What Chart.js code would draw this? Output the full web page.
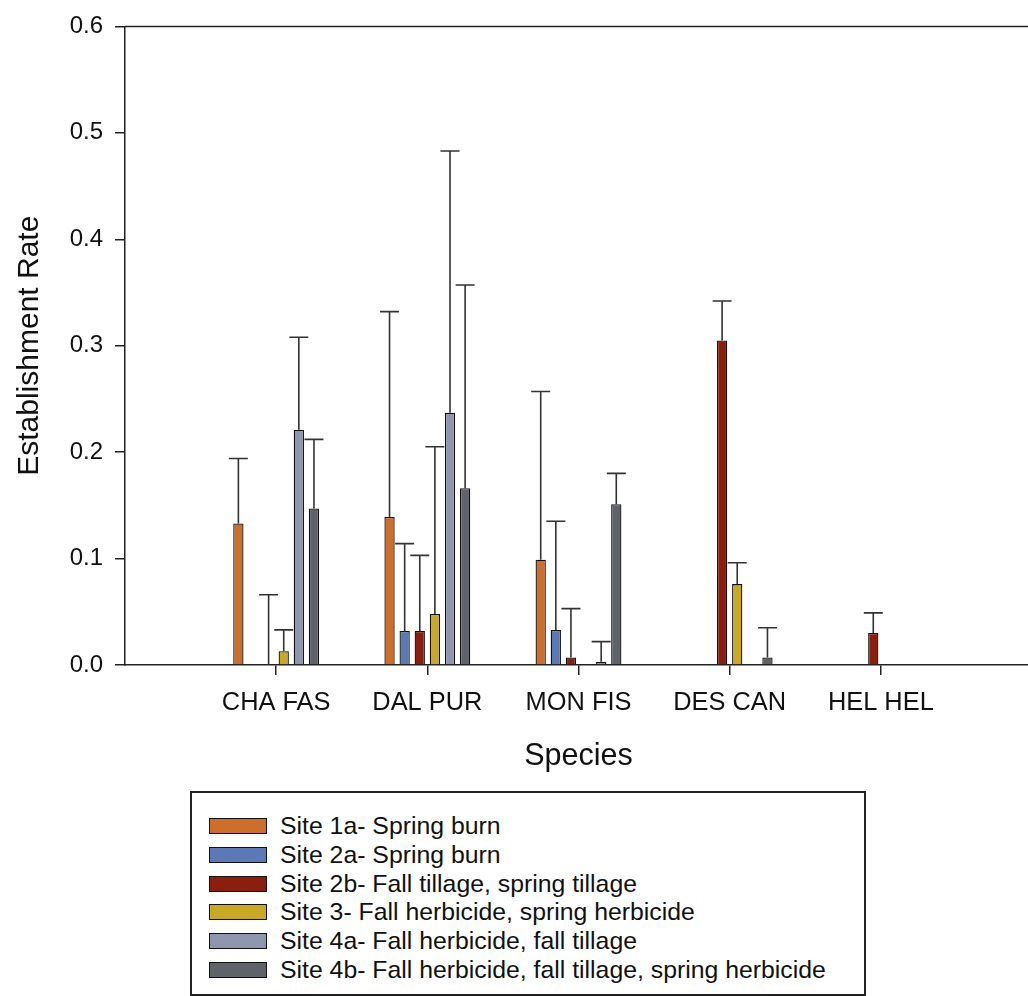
<!DOCTYPE html>
<html>
<head>
<meta charset="utf-8">
<script src="https://cdn.jsdelivr.net/npm/chart.js@4/dist/chart.umd.min.js"></script>
<style>
  html, body { margin: 0; padding: 0; background: #fff; overflow: hidden; }
  #wrap { position: absolute; left: 0; top: 0; width: 1045px; height: 790px; }
  #legend {
    position: absolute; left: 190px; top: 791px;
    border: 2px solid #222; background: #fff;
    font-family: "Liberation Sans", Arial, sans-serif; font-size: 24.8px; color: #111;
    padding-top: 19px; box-sizing: border-box; width: 676px; height: 205px;
  }
  .row { height: 28.7px; display: flex; align-items: center; }
  .sw { width: 56px; height: 14px; border: 1.5px solid #111; margin-left: 17px; margin-right: 13px; flex: none; }
</style>
</head>
<body>
<div id="wrap"><canvas id="chart" width="1045" height="790"></canvas></div>
<div id="legend"></div>
<script>
const categories = ['CHA FAS', 'DAL PUR', 'MON FIS', 'DES CAN', 'HEL HEL'];
const seriesNames = [
  'Site 1a- Spring burn',
  'Site 2a- Spring burn',
  'Site 2b- Fall tillage, spring tillage',
  'Site 3- Fall herbicide, spring herbicide',
  'Site 4a- Fall herbicide, fall tillage',
  'Site 4b- Fall herbicide, fall tillage, spring herbicide'
];
const seriesColors = ['#CD6F2C', '#5A79B5', '#8B1F0F', '#C9A826', '#8F97AF', '#5F6269'];

// mean establishment rate per species
const site1a = [0.133, 0.139, 0.099, null, null];
const site2a = [null, 0.032, 0.033, null, null];
const site2b = [0, 0.032, 0.007, 0.305, 0.030];
const site3 = [0.013, 0.048, null, 0.076, null];
const site4a = [0.221, 0.237, 0.003, null, null];
const site4b = [0.147, 0.166, 0.151, 0.007, null];

// upper error (added to the mean)
const err1a = [0.061, 0.193, 0.158, null, null];
const err2a = [null, 0.082, 0.102, null, null];
const err2b = [0.066, 0.071, 0.046, 0.037, 0.019];
const err3 = [0.020, 0.157, null, 0.020, null];
const err4a = [0.087, 0.246, 0.019, null, null];
const err4b = [0.065, 0.191, 0.029, 0.028, null];

const yTicks = [0.0, 0.1, 0.2, 0.3, 0.4, 0.5, 0.6];

const values = [site1a, site2a, site2b, site3, site4a, site4b];
const errors = [err1a, err2a, err2b, err3, err4a, err4b];

// empty slots on both ends so the axis runs from 0 to 6
const labels = [''].concat(categories, ['']);
const pad = arr => [null].concat(arr, [null]);

const datasets = values.map((v, i) => ({
  label: seriesNames[i],
  data: pad(v),
  backgroundColor: seriesColors[i],
  borderColor: '#111',
  borderWidth: 1.3,
  categoryPercentage: 0.6,
  barPercentage: 0.68,
  errUp: pad(errors[i])
}));

const errorBars = {
  id: 'errorBars',
  afterDatasetsDraw(chart) {
    const ctx = chart.ctx;
    const y = chart.scales.y;
    ctx.save();
    ctx.strokeStyle = '#333';
    ctx.lineWidth = 1.6;
    chart.data.datasets.forEach((ds, i) => {
      const meta = chart.getDatasetMeta(i);
      ds.errUp.forEach((e, j) => {
        if (e == null || ds.data[j] == null) return;
        const bar = meta.data[j];
        const top = y.getPixelForValue(ds.data[j] + e);
        ctx.beginPath();
        ctx.moveTo(bar.x, bar.y);
        ctx.lineTo(bar.x, top);
        ctx.moveTo(bar.x - 9.5, top);
        ctx.lineTo(bar.x + 9.5, top);
        ctx.stroke();
      });
    });
    // top frame line
    const a = chart.chartArea;
    ctx.strokeStyle = '#222';
    ctx.lineWidth = 1.5;
    ctx.beginPath();
    ctx.moveTo(a.left, a.top);
    ctx.lineTo(a.right, a.top);
    ctx.stroke();
    ctx.restore();
  }
};

const font = 'Liberation Sans, Arial, sans-serif';

new Chart(document.getElementById('chart'), {
  type: 'bar',
  data: { labels: labels, datasets: datasets },
  plugins: [errorBars],
  options: {
    responsive: false,
    animation: false,
    layout: { padding: { top: 25, right: 8, left: 0, bottom: 0 } },
    plugins: { legend: { display: false }, tooltip: { enabled: false } },
    scales: {
      x: {
        type: 'category',
        offset: false,
        afterFit: s => { s.height = 125; },
        grid: {
          offset: false,
          drawOnChartArea: false,
          drawTicks: true,
          tickLength: 10,
          lineWidth: 1.5,
          color: c => (c.index === 0 || c.index === labels.length - 1) ? 'rgba(0,0,0,0)' : '#222'
        },
        border: { color: '#222', width: 1.5 },
        ticks: { color: '#111', font: { family: font, size: 25.4 }, padding: 13, maxRotation: 0, autoSkip: false },
        title: { display: true, text: 'Species', color: '#111', font: { family: font, size: 30.5 }, padding: { top: 0, bottom: 15 } }
      },
      y: {
        min: 0,
        max: 0.6,
        afterFit: s => { s.width = 125; },
        afterBuildTicks: s => { s.ticks = yTicks.map(v => ({ value: v })); },
        grid: { drawOnChartArea: false, drawTicks: true, tickLength: 10, lineWidth: 1.5, color: '#222' },
        border: { color: '#222', width: 1.5 },
        ticks: { color: '#111', font: { family: font, size: 24 }, padding: 12, callback: v => Number(v).toFixed(1) },
        title: { display: true, text: 'Establishment Rate', color: '#111', font: { family: font, size: 30 }, padding: { top: 12, bottom: 0 } }
      }
    }
  }
});

const legend = document.getElementById('legend');
seriesNames.forEach((name, i) => {
  const row = document.createElement('div');
  row.className = 'row';
  const sw = document.createElement('div');
  sw.className = 'sw';
  sw.style.background = seriesColors[i];
  const txt = document.createElement('span');
  txt.textContent = name;
  row.appendChild(sw);
  row.appendChild(txt);
  legend.appendChild(row);
});
</script>
</body>
</html>
